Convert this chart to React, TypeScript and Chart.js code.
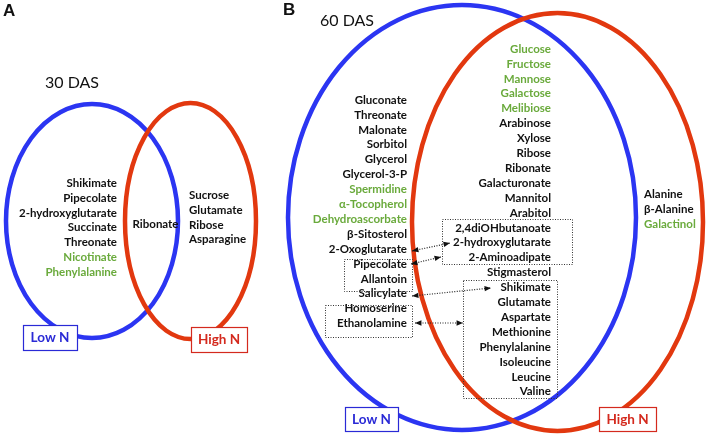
import React, { useEffect, useRef } from 'react';
import { Chart, registerables } from 'chart.js';
Chart.register(...registerables);

// ---- Data: metabolite set membership ----
const panelA_title = '30 DAS';
const lowOnly30 = ['Shikimate', 'Pipecolate', '2-hydroxyglutarate', 'Succinate', 'Threonate', 'Nicotinate', 'Phenylalanine'];
const shared30 = ['Ribonate'];
const highOnly30 = ['Sucrose', 'Glutamate', 'Ribose', 'Asparagine'];
const green30 = ['Nicotinate', 'Phenylalanine'];

const panelB_title = '60 DAS';
const lowOnly60 = ['Gluconate', 'Threonate', 'Malonate', 'Sorbitol', 'Glycerol', 'Glycerol-3-P', 'Spermidine', 'α-Tocopherol', 'Dehydroascorbate', 'β-Sitosterol', '2-Oxoglutarate', 'Pipecolate', 'Allantoin', 'Salicylate', 'Homoserine', 'Ethanolamine'];
const shared60 = ['Glucose', 'Fructose', 'Mannose', 'Galactose', 'Melibiose', 'Arabinose', 'Xylose', 'Ribose', 'Ribonate', 'Galacturonate', 'Mannitol', 'Arabitol', '2,4diOHbutanoate', '2-hydroxyglutarate', '2-Aminoadipate', 'Stigmasterol', 'Shikimate', 'Glutamate', 'Aspartate', 'Methionine', 'Phenylalanine', 'Isoleucine', 'Leucine', 'Valine'];
const highOnly60 = ['Alanine', 'β-Alanine', 'Galactinol'];
const green60 = ['Spermidine', 'α-Tocopherol', 'Dehydroascorbate', 'Glucose', 'Fructose', 'Mannose', 'Galactose', 'Melibiose', 'Galactinol'];

const setLabels = ['Low N', 'High N'];

// ---- Layout (page coordinates) ----
const LINE = 14.9;
const BLUE = '#2b35f2';
const RED = '#e2380f';
const GREEN = '#6aaa3c';
const BLACK = '#111111';
const FONT = '"Lato", "Open Sans", sans-serif';

export default function App() {
  const ref = useRef<HTMLCanvasElement | null>(null);
  useEffect(() => {
    document.body.style.margin = '0';
    const canvas = ref.current!;
    const plugin = {
      id: 'venn',
      afterDraw(chart: any) {
        const ctx: CanvasRenderingContext2D = chart.ctx;
        const xs = chart.scales.x;
        const ys = chart.scales.y;
        const X = (v: number) => xs.getPixelForValue(v);
        const Y = (v: number) => ys.getPixelForValue(v);
        const W = (v: number) => Math.abs(xs.getPixelForValue(v) - xs.getPixelForValue(0));
        const H = (v: number) => Math.abs(ys.getPixelForValue(v) - ys.getPixelForValue(0));

        ctx.save();
        const ellipse = (cx: number, cy: number, rx: number, ry: number, color: string) => {
          ctx.beginPath();
          ctx.ellipse(X(cx), Y(cy), W(rx), H(ry), 0, 0, Math.PI * 2);
          ctx.strokeStyle = color;
          ctx.lineWidth = 4.5;
          ctx.setLineDash([]);
          ctx.stroke();
        };
        ellipse(92, 221, 86, 117, BLUE);
        ellipse(190.5, 221, 65.5, 118, RED);
        ellipse(462, 217.5, 174, 212.5, BLUE);
        ellipse(557.5, 222, 145.5, 209, RED);

        const list = (items: string[], x: number, y0: number, align: CanvasTextAlign, greens: string[]) => {
          ctx.font = `bold 11.5px ${FONT}`;
          ctx.textAlign = align;
          ctx.textBaseline = 'middle';
          items.forEach((t, i) => {
            ctx.fillStyle = greens.includes(t) ? GREEN : BLACK;
            ctx.fillText(t, X(x), Y(y0 + i * LINE));
          });
        };
        list(lowOnly30, 117, 183, 'right', green30);
        list(shared30, 155.5, 224, 'center', green30);
        list(highOnly30, 189, 195, 'left', green30);
        list(lowOnly60, 407, 100, 'right', green60);
        list(shared60, 551, 49, 'right', green60);
        list(highOnly60, 644, 194, 'left', green60);

        // titles
        ctx.fillStyle = BLACK;
        ctx.textAlign = 'left';
        ctx.textBaseline = 'middle';
        ctx.font = `16px ${FONT}`;
        ctx.fillText(panelA_title, X(45), Y(83));
        ctx.fillText(panelB_title, X(320), Y(21));
        ctx.font = `bold 17px Arial, "Liberation Sans", sans-serif`;
        ctx.fillText('A', X(3), Y(11));
        ctx.fillText('B', X(283), Y(10));

        // set label boxes
        const labelBox = (x0: number, y0: number, x1: number, y1: number, text: string, color: string) => {
          ctx.setLineDash([]);
          ctx.fillStyle = '#ffffff';
          ctx.fillRect(X(x0), Y(y0), X(x1) - X(x0), Y(y1) - Y(y0));
          ctx.strokeStyle = color;
          ctx.lineWidth = 1.2;
          ctx.strokeRect(X(x0) + 0.5, Y(y0) + 0.5, X(x1) - X(x0), Y(y1) - Y(y0));
          ctx.fillStyle = color;
          ctx.font = `bold 13.5px ${FONT}`;
          ctx.textAlign = 'center';
          ctx.textBaseline = 'middle';
          ctx.fillText(text, X((x0 + x1) / 2), Y((y0 + y1) / 2 + 0.5));
        };
        labelBox(23, 325, 77, 350, setLabels[0], '#2a2ad6');
        labelBox(191, 327, 247, 352, setLabels[1], '#d42a1e');
        labelBox(345, 407, 398, 431, setLabels[0], '#2a2ad6');
        labelBox(599, 407, 656, 431, setLabels[1], '#d42a1e');

        // dotted group boxes
        const dotBox = (x0: number, y0: number, x1: number, y1: number) => {
          ctx.setLineDash([1, 1.5]);
          ctx.strokeStyle = '#333';
          ctx.lineWidth = 1;
          ctx.strokeRect(X(x0) + 0.5, Y(y0) + 0.5, X(x1) - X(x0), Y(y1) - Y(y0));
        };
        dotBox(442, 219, 572, 264);
        dotBox(463, 280, 557, 398);
        dotBox(344, 259, 412, 291);
        dotBox(325, 305, 412, 337);

        // arrows
        const head = (x: number, y: number, ang: number) => {
          ctx.setLineDash([]);
          ctx.fillStyle = BLACK;
          ctx.beginPath();
          ctx.moveTo(X(x), Y(y));
          ctx.lineTo(X(x) - 7 * Math.cos(ang - 0.4), Y(y) - 7 * Math.sin(ang - 0.4));
          ctx.lineTo(X(x) - 7 * Math.cos(ang + 0.4), Y(y) - 7 * Math.sin(ang + 0.4));
          ctx.closePath();
          ctx.fill();
        };
        const arrow = (x0: number, y0: number, x1: number, y1: number, both: boolean) => {
          ctx.setLineDash([1, 1.5]);
          ctx.strokeStyle = '#222';
          ctx.lineWidth = 1.2;
          ctx.beginPath();
          ctx.moveTo(X(x0), Y(y0));
          ctx.lineTo(X(x1), Y(y1));
          ctx.stroke();
          const ang = Math.atan2(Y(y1) - Y(y0), X(x1) - X(x0));
          head(x1, y1, ang);
          if (both) head(x0, y0, ang + Math.PI);
        };
        arrow(412, 251, 450, 243, true);
        arrow(411, 264, 441, 257, true);
        arrow(412, 296, 491, 288, true);
        arrow(415, 323, 463, 323, true);
        ctx.restore();
      },
    };
    const chart = new Chart(canvas, {
      type: 'scatter',
      data: { datasets: [{ data: [], pointRadius: 0 }] },
      options: {
        animation: false,
        responsive: false,
        layout: { padding: 0 },
        plugins: { legend: { display: false }, tooltip: { enabled: false } },
        scales: {
          x: { type: 'linear', min: 0, max: 711, display: false },
          y: { type: 'linear', min: 0, max: 440, reverse: true, display: false },
        },
      },
      plugins: [plugin],
    });
    return () => chart.destroy();
  }, []);
  return (
    <div style={{ width: 711, height: 440, background: '#fff' }}>
      <canvas ref={ref} width={711} height={440} style={{ display: 'block' }} />
    </div>
  );
}
